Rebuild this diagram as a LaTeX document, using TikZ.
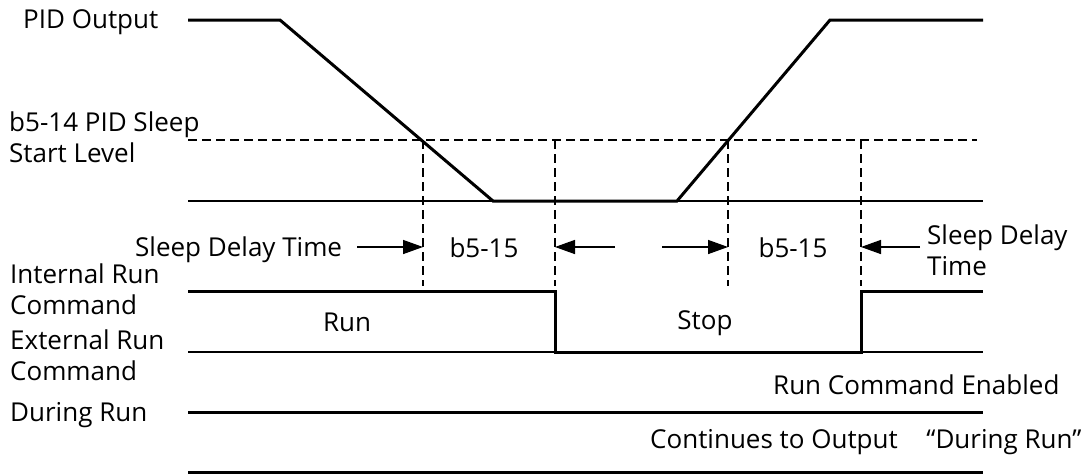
\documentclass[tikz,border=0pt]{standalone}
\usepackage{fontspec}
\setmainfont{Open Sans}
\usetikzlibrary{arrows.meta}
\begin{document}
\begin{tikzpicture}[x=1pt,y=-1pt,
  lbl/.style={font=\fontsize{26}{30.5}\selectfont, inner sep=0pt, align=left},
  sig/.style={line width=3pt, line join=miter},
  refline/.style={line width=1.5pt},
  dashline/.style={line width=1.5pt, dash pattern=on 8.5pt off 5.5pt},
  dimarrow/.style={line width=1.5pt, -{Triangle[length=20pt,width=14pt]}}
]
\useasboundingbox (0,0) rectangle (1089,475);

% labels left
\node[lbl, anchor=west] (pidout) at (23,22) {PID Output};
\node[lbl, anchor=west] (sleeplvl) at (9,137) {b5-14 PID Sleep\\Start Level};
\node[lbl, anchor=west] (intrun) at (10,289) {Internal Run\\Command};
\node[lbl, anchor=west] (extrun) at (10,355) {External Run\\Command};
\node[lbl, anchor=west] (during) at (10,415) {During Run};

% reference lines
\coordinate (lvlL) at (188,140);
\coordinate (lvlR) at (977,140);
\draw[dashline] (lvlL) -- (lvlR);
\coordinate (baseL) at (188,201);
\coordinate (baseR) at (983,201);
\draw[refline] (baseL) -- (baseR);

% PID output waveform
\coordinate (p0) at (188,20);
\coordinate (p1) at (280,20);
\coordinate (p2) at (493,201);
\coordinate (p3) at (677,201);
\coordinate (p4) at (830,20);
\coordinate (p5) at (983,20);
\draw[sig] (p0) -- (p1) -- (p2) -- (p3) -- (p4) -- (p5);

% vertical dashed markers
\foreach \n/\x in {a/423, b/555, c/728, d/861}{
  \coordinate (\n top) at (\x,140);
  \coordinate (\n bot) at (\x,286);
  \coordinate (\n mid) at (\x,247);
  \draw[dashline] (\n top) -- (\n bot);
}

% timing arrows and labels
\node[lbl, anchor=west] (sdt1) at (135,250) {Sleep Delay Time};
\coordinate (arrA) at (357,247);
\draw[dimarrow] (arrA) -- (amid);
\node[lbl] (b515a) at (484,248) {b5-15};
\coordinate (arrB) at (615,247);
\draw[dimarrow] (arrB) -- (bmid);
\coordinate (arrC) at (662,247);
\draw[dimarrow] (arrC) -- (cmid);
\node[lbl] (b515b) at (793,248) {b5-15};
\coordinate (arrD) at (920,247);
\draw[dimarrow] (arrD) -- (dmid);
\node[lbl, anchor=west] (sdt2) at (927,250) {Sleep Delay\\Time};

% internal run command waveform
\coordinate (r0) at (188,291);
\coordinate (r1) at (555,291);
\coordinate (r2) at (555,352);
\coordinate (r3) at (861,352);
\coordinate (r4) at (861,291);
\coordinate (r5) at (983,291);
\coordinate (eL) at (188,352);
\coordinate (eR) at (983,352);
\draw[refline] (eL) -- (eR);
\draw[sig] (r0) -- (r1) -- (r2) -- (r3) -- (r4) -- (r5);
\node[lbl] (run) at (347,322) {Run};
\node[lbl] (stop) at (705,323) {Stop};

% run command enabled / during run
\node[lbl, anchor=west] (enabled) at (773,385) {Run Command Enabled};
\coordinate (d1L) at (188,412);
\coordinate (d1R) at (983,412);
\draw[sig] (d1L) -- (d1R);
\node[lbl, anchor=west] (cont) at (650,442) {Continues to Output\hspace{1.1em}“During Run”};
\coordinate (d2L) at (188,472);
\coordinate (d2R) at (983,472);
\draw[sig] (d2L) -- (d2R);
\end{tikzpicture}
\end{document}
